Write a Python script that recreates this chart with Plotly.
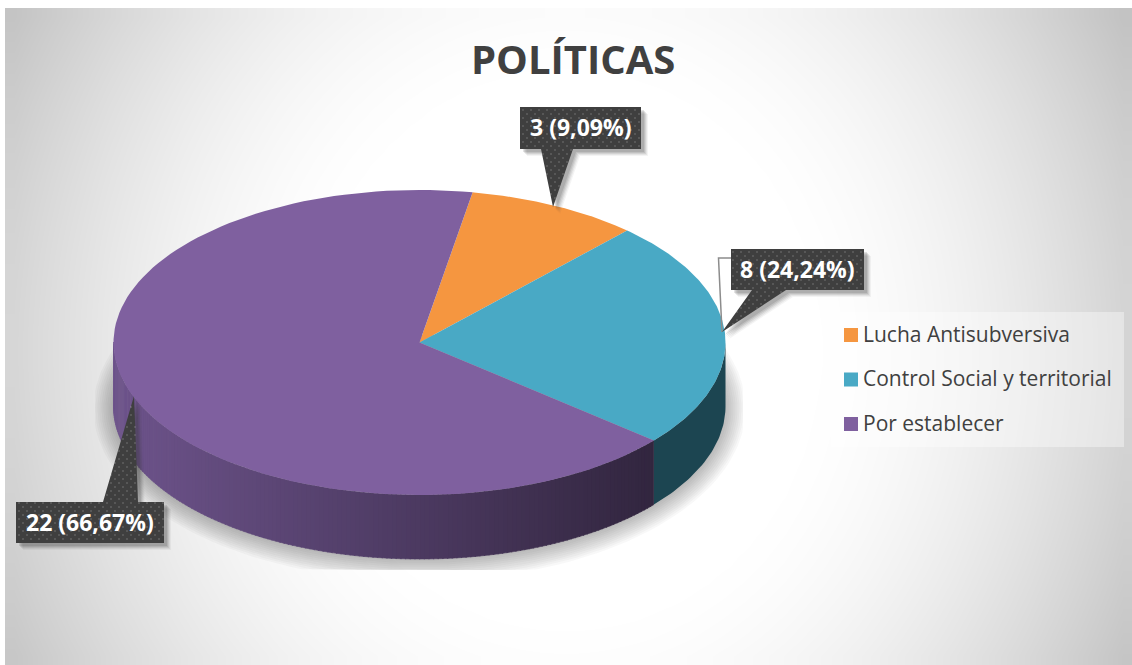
import numpy as np
import plotly.graph_objects as go

categories = ["Lucha Antisubversiva", "Control Social y territorial", "Por establecer"]
values = [3, 8, 22]
title_text = "POLÍTICAS"

top_colors = ["#F59640", "#49A9C5", "#7F609F"]
W, H = 1132, 665
CX, CY, RX, RY, DEPTH = 419.5, 342.5, 306, 152.5, 64
START = 10.0
FONT = "Open Sans"
total = sum(values)
labels = [f"{v} ({v / total * 100:.2f}%)".replace(".", ",") for v in values]
sweeps = [v / total * 360 for v in values]
edges = np.cumsum([START] + sweeps)

fig = go.Figure()

# panel background: radial grey gradient
nx, ny = 60, 36
dx, dy = (W - 5) / nx, (H - 8) / ny
gx = 5 + dx / 2 + dx * np.arange(nx)
gy = 8 + dy / 2 + dy * np.arange(ny)
XX, YY = np.meshgrid(gx, gy)
t = np.sqrt(((XX - 565) / 566) ** 2 + ((YY - 350) / 620) ** 2)
shade = 255 - 63 * np.clip((t - 0.42) / 0.72, 0, 1) ** 1.6
fig.add_trace(go.Heatmap(x=gx, y=gy, z=shade, zmin=0, zmax=255, zsmooth="best",
                         colorscale=[[0, "rgb(0,0,0)"], [1, "rgb(255,255,255)"]],
                         showscale=False, hoverinfo="skip"))


def px(theta_deg, dy_=0.0, grow=0.0):
    a = np.radians(theta_deg)
    return CX + (RX + grow) * np.sin(a), CY + dy_ - (RY + grow) * np.cos(a)


def poly(xs, ys, color, line=None):
    fig.add_trace(go.Scatter(x=xs, y=ys, mode="lines", fill="toself", fillcolor=color,
                             line=dict(color=line or "rgba(0,0,0,0)", width=0.6 if line else 0),
                             hoverinfo="skip", showlegend=False))


# soft shadow under the disc, clipped to its rectangle
for g in np.arange(20, -1, -2.0):
    th = np.linspace(60, 300, 120)
    sx, sy = px(th, DEPTH, g)
    sy = sy + 2
    sx = np.clip(sx, 95, 743)
    sy = np.clip(sy, 335, 570)
    poly(sx, sy, "rgba(70,70,70,0.035)")

# side wall: purple with horizontal gradient, teal darker
wall_stops = [(0.0, (110, 84, 140)), (0.5, (80, 61, 102)), (1.0, (50, 38, 63))]
a_list = np.linspace(edges[2], 270, 161)
x_left, x_right = CX - RX, px(edges[2])[0]
for i in range(160):
    th = np.linspace(a_list[i], a_list[i + 1] + 0.2, 3)
    tx, ty = px(th)
    bx, by = px(th[::-1], DEPTH)
    f = np.clip((tx.mean() - x_left) / (x_right - x_left), 0, 1)
    rgb = [np.interp(f, [s[0] for s in wall_stops], [s[1][k] for s in wall_stops]) for k in range(3)]
    c = "rgb(%d,%d,%d)" % tuple(rgb)
    poly(np.r_[tx, bx], np.r_[ty, by], c, c)
th = np.linspace(90, edges[2], 40)
tx, ty = px(th)
bx, by = px(th[::-1], DEPTH)
poly(np.r_[tx, bx], np.r_[ty, by], "#1C4551")

# top face slices
for i, cat in enumerate(categories):
    th = np.linspace(edges[i], edges[i + 1], 120)
    ex, ey = px(th)
    fig.add_trace(go.Scatter(x=np.r_[CX, ex, CX], y=np.r_[CY, ey, CY], mode="lines", fill="toself",
                             fillcolor=top_colors[i], line=dict(width=0, color=top_colors[i]),
                             name=cat, showlegend=False, hoverinfo="skip"))

# legend panel
poly([831, 1124, 1124, 831, 831], [312, 312, 447, 447, 312], "rgba(255,255,255,0.38)")
leg_y = [335, 379.5, 424]
fig.add_trace(go.Scatter(x=[851] * 3, y=leg_y, mode="markers",
                         marker=dict(symbol="square", size=14, color=top_colors, line=dict(width=0)),
                         hoverinfo="skip", showlegend=False))

annotations = [dict(x=573, y=58, text=f"<b>{title_text}</b>", showarrow=False,
                    font=dict(family=FONT, size=40, color="#404040"), xref="x", yref="y")]
for cat, y in zip(categories, leg_y):
    annotations.append(dict(x=863, y=y - 1.5, text=cat, showarrow=False, xanchor="left",
                            font=dict(family=FONT, size=21, color="#404040"), xref="x", yref="y",
                            xshift=-2))

# callouts: polygon outline of box + pointer
callouts = [
    dict(i=0, box=(520, 107, 641, 149), base=(541, 573), tip=(553, 207), side="bottom"),
    dict(i=1, box=(731, 249, 864, 290), base=(752, 786), tip=(722, 332), side="bottom"),
    dict(i=2, box=(16, 502, 164, 543), base=(103, 138), tip=(134, 396), side="top"),
]


def inside(px_, py_, xs, ys):
    c = False
    n = len(xs)
    j = n - 1
    for k in range(n):
        if (ys[k] > py_) != (ys[j] > py_) and px_ < (xs[j] - xs[k]) * (py_ - ys[k]) / (ys[j] - ys[k]) + xs[k]:
            c = not c
        j = k
    return c


# leader line of the second label
fig.add_trace(go.Scatter(x=[722, 718.5, 731], y=[332, 258, 258], mode="lines",
                         line=dict(color="#8C8C8C", width=1.5), hoverinfo="skip", showlegend=False))

for co in callouts:
    x0, y0, x1, y1 = co["box"]
    b0, b1 = co["base"]
    tx_, ty_ = co["tip"]
    if co["side"] == "bottom":
        xs = [x0, x1, x1, b1, tx_, b0, x0, x0]
        ys = [y0, y0, y1, y1, ty_, y1, y1, y0]
    else:
        xs = [x0, b0, tx_, b1, x1, x1, x0, x0]
        ys = [y0, y0, ty_, y0, y0, y1, y1, y0]
    for off, a in [(7, 0.06), (6, 0.08), (5, 0.1), (4, 0.12), (3, 0.14)]:
        poly([v + off for v in xs], [v + off for v in ys], f"rgba(60,60,60,{a})")
    poly(xs, ys, "#3F3F3F")
    # dotted texture
    dots_x, dots_y = [], []
    for row, yy in enumerate(np.arange(min(ys) + 3, max(ys), 4.0)):
        for xx in np.arange(min(xs) + 3 + (row % 2) * 4, max(xs), 8.0):
            if inside(xx, yy, xs, ys):
                dots_x.append(xx)
                dots_y.append(yy)
    fig.add_trace(go.Scatter(x=dots_x, y=dots_y, mode="markers",
                             marker=dict(symbol="square", size=2, color="rgba(255,255,255,0.13)", line=dict(width=0)),
                             hoverinfo="skip", showlegend=False))
    annotations.append(dict(x=(x0 + x1) / 2, y=(y0 + y1) / 2 - 1, text=f"<b>{labels[co['i']]}</b>",
                            showarrow=False, font=dict(family=FONT, size=23, color="#FFFFFF"),
                            xref="x", yref="y"))

fig.update_layout(
    width=W, height=H, margin=dict(l=0, r=0, t=0, b=0), autosize=False,
    paper_bgcolor="#FFFFFF", plot_bgcolor="#FFFFFF", showlegend=False,
    xaxis=dict(range=[0, W], visible=False, fixedrange=True),
    yaxis=dict(range=[H, 0], visible=False, fixedrange=True),
    annotations=annotations,
)
fig.write_html("out.html", config={"displayModeBar": False},
               post_script="document.body.style.margin='0';document.body.style.overflow='hidden';")
